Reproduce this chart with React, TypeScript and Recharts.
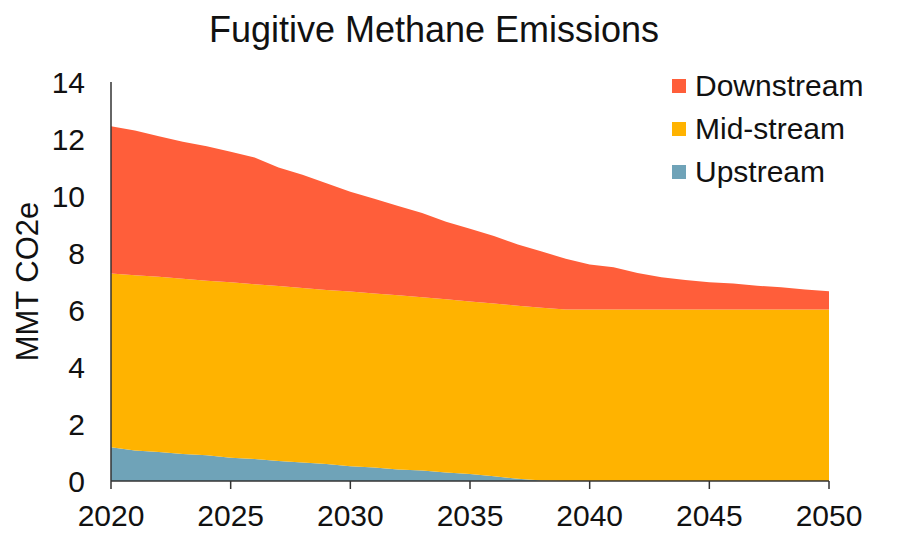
import { Area, AreaChart, XAxis, YAxis } from "recharts";

const years = [
    2020, 2021, 2022, 2023, 2024, 2025, 2026, 2027, 2028, 2029, 2030, 2031, 2032, 2033, 2034, 2035,
    2036, 2037, 2038, 2039, 2040, 2041, 2042, 2043, 2044, 2045, 2046, 2047, 2048, 2049, 2050,
];

const upstream = [
    1.18, 1.07, 1.02, 0.95, 0.9, 0.82, 0.77, 0.7, 0.65, 0.6, 0.52, 0.47, 0.4, 0.37, 0.3, 0.25,
    0.17, 0.08, 0.02, 0, 0, 0, 0, 0, 0, 0, 0, 0, 0, 0, 0,
];

const midstream = [
    6.1, 6.15, 6.15, 6.15, 6.13, 6.15, 6.13, 6.14, 6.12, 6.1, 6.13, 6.11, 6.12, 6.08, 6.08, 6.05,
    6.06, 6.07, 6.06, 6.02, 6.02, 6.02, 6.02, 6.02, 6.02, 6.02, 6.02, 6.02, 6.02, 6.02, 6.02,
];

const downstream = [
    5.17, 5.08, 4.93, 4.8, 4.72, 4.58, 4.45, 4.16, 3.98, 3.75, 3.5, 3.32, 3.13, 2.95, 2.72, 2.55,
    2.37, 2.15, 1.97, 1.78, 1.58, 1.48, 1.28, 1.13, 1.03, 0.95, 0.91, 0.83, 0.78, 0.7, 0.64,
];

const xTicks = [2020, 2025, 2030, 2035, 2040, 2045, 2050];
const yTicks = [0, 2, 4, 6, 8, 10, 12, 14];

const series = [
    { key: "upstream", name: "Upstream", color: "#6FA3B8" },
    { key: "midstream", name: "Mid-stream", color: "#FFB300" },
    { key: "downstream", name: "Downstream", color: "#FF5E3A" },
];

const FONT = "'Liberation Sans', Arial, sans-serif";

const data = years.map((year, i) => ({
    year,
    upstream: upstream[i],
    midstream: midstream[i],
    downstream: downstream[i],
}));

export default function App() {
    const tickStyle = { fontSize: 30, fill: "#111", fontFamily: FONT };

    return (
        <div style={{ position: "absolute", left: 0, top: 0, width: 910, height: 541, background: "#fff" }}>
            <div
                style={{
                    position: "absolute",
                    left: 0,
                    top: 9,
                    width: 868,
                    textAlign: "center",
                    fontFamily: FONT,
                    fontSize: 36,
                    color: "#111",
                }}
            >
                Fugitive Methane Emissions
            </div>
            {/* legend lists the top layer first */}
            <div
                style={{
                    position: "absolute",
                    left: 672,
                    top: 64,
                    fontFamily: FONT,
                    fontSize: 30,
                    color: "#111",
                    zIndex: 2,
                }}
            >
                {[...series].reverse().map((s) => (
                    <div key={s.key} style={{ display: "flex", alignItems: "center", height: 43 }}>
                        <span
                            style={{
                                display: "inline-block",
                                width: 14,
                                height: 14,
                                background: s.color,
                                marginRight: 9,
                            }}
                        />
                        <span>{s.name}</span>
                    </div>
                ))}
            </div>
            <AreaChart
                width={910}
                height={541}
                data={data}
                margin={{ top: 82, right: 81, bottom: 0, left: 0 }}
            >
                <XAxis
                    dataKey="year"
                    type="number"
                    domain={[2020, 2050]}
                    ticks={xTicks}
                    interval={0}
                    height={60}
                    tick={tickStyle}
                    tickSize={8}
                    tickMargin={16}
                    stroke="#333"
                    strokeWidth={1.5}
                />
                <YAxis
                    domain={[0, 14]}
                    ticks={yTicks}
                    interval={0}
                    width={111}
                    tick={tickStyle}
                    tickLine={false}
                    tickSize={6}
                    tickMargin={20}
                    stroke="#333"
                    strokeWidth={1.5}
                    label={{
                        value: "MMT CO2e",
                        angle: -90,
                        position: "insideLeft",
                        offset: 27,
                        style: { fontSize: 31, fill: "#111", fontFamily: FONT, textAnchor: "middle" },
                    }}
                />
                {series.map((s) => (
                    <Area
                        key={s.key}
                        type="linear"
                        dataKey={s.key}
                        name={s.name}
                        stackId="1"
                        stroke="none"
                        fill={s.color}
                        fillOpacity={1}
                        isAnimationActive={false}
                    />
                ))}
            </AreaChart>
        </div>
    );
}
